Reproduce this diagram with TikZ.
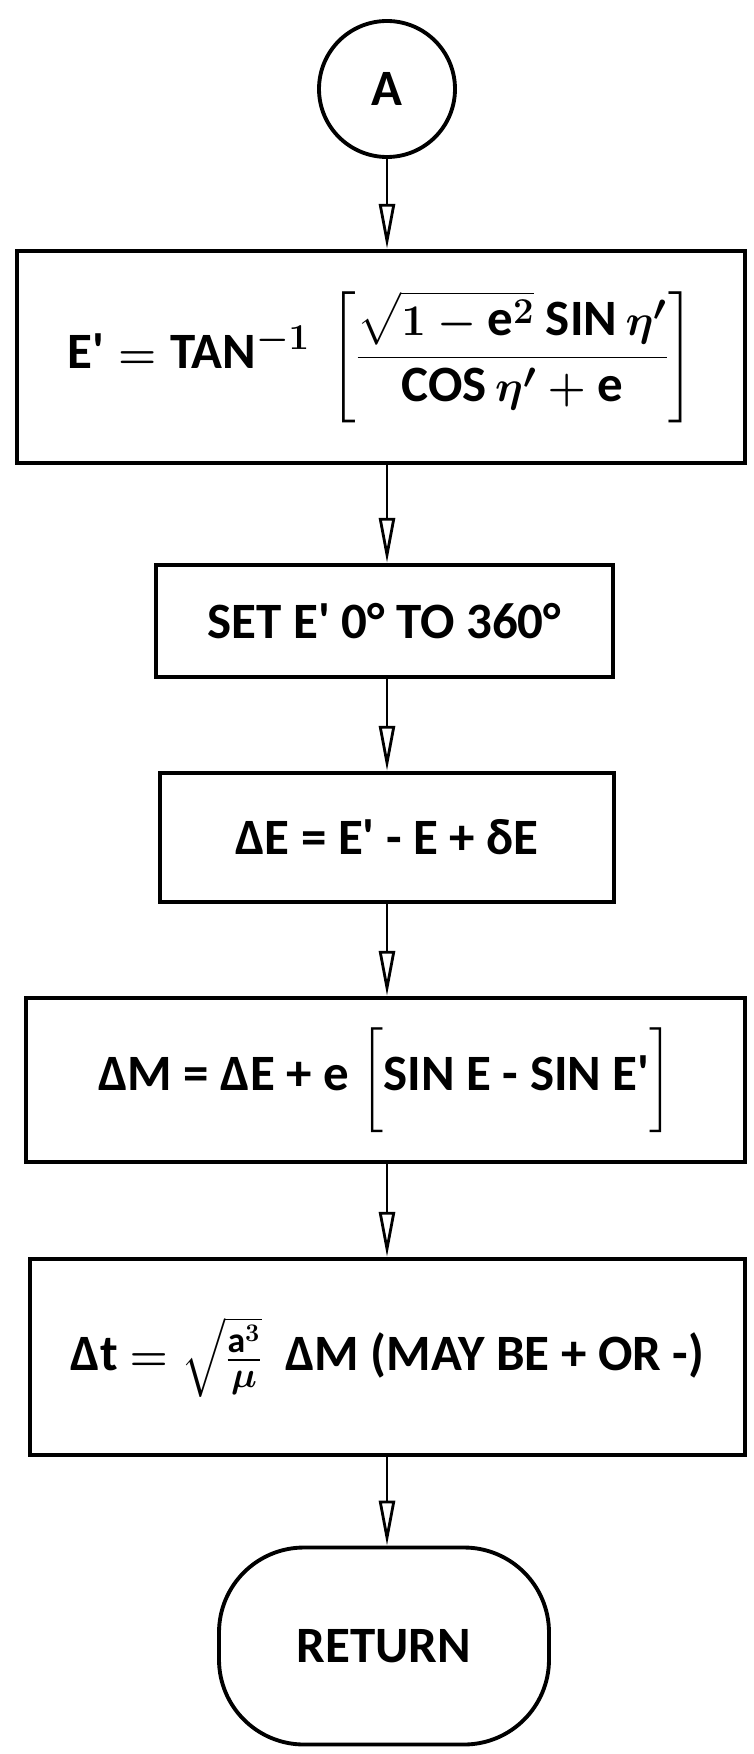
\documentclass[tikz,border=0pt]{standalone}
\usepackage{amsmath}
\usepackage{fontspec}
\setmainfont{Carlito}
\usetikzlibrary{arrows.meta}
\newcommand{\apos}{\textquotesingle}

\begin{document}
\begin{tikzpicture}[>={Triangle[open,length=0.9cm,width=0.32cm]},
  every node/.style={font=\fontsize{29}{34}\selectfont\bfseries\boldmath},
  procbox/.style={draw,line width=2.5pt,inner sep=0pt},
  flow/.style={->,line width=1.6pt}]
\useasboundingbox (0,0) rectangle (15.06,-35.08);
\node[circle,draw,line width=2.2pt,minimum size=2.72cm] (A) at (7.74,-1.78){A};
\node[procbox,minimum width=14.56cm,minimum height=4.24cm] (tan) at (7.62,-7.14)
  {$\text{E\apos} = \text{TAN}^{-1}\ \left[\dfrac{\sqrt{1 - \text{e}^{2}}\ \text{SIN}\,\eta'}{\text{COS}\,\eta' + \text{e}}\right]$};
\node[procbox,minimum width=9.14cm,minimum height=2.24cm] (set) at (7.69,-12.42){SET E\apos{} 0° TO 360°};
\node[procbox,minimum width=9.08cm,minimum height=2.58cm] (dE) at (7.74,-16.75){ΔE = E\apos{} - E + δE};
\node[procbox,minimum width=14.38cm,minimum height=3.28cm] (dM) at (7.71,-21.6)
  {ΔM = ΔE + e $\bigg[$SIN E - SIN E\apos$\bigg]$};
\node[procbox,minimum width=14.3cm,minimum height=3.92cm] (dt) at (7.75,-27.14)
  {Δt $=\sqrt{\frac{\text{a}^{3}}{\mu}}$\ \ ΔM (MAY BE + OR -)};
\node[draw,line width=2.2pt,rounded corners=1.7cm,minimum width=6.6cm,minimum height=3.94cm] (ret) at (7.68,-32.92){RETURN};
\draw[flow] (A.south) -- (A.south |- tan.north);
\draw[flow] (A.south |- tan.south) -- (A.south |- set.north);
\draw[flow] (A.south |- set.south) -- (A.south |- dE.north);
\draw[flow] (A.south |- dE.south) -- (A.south |- dM.north);
\draw[flow] (A.south |- dM.south) -- (A.south |- dt.north);
\draw[flow] (A.south |- dt.south) -- (A.south |- ret.north);
\end{tikzpicture}
\end{document}
